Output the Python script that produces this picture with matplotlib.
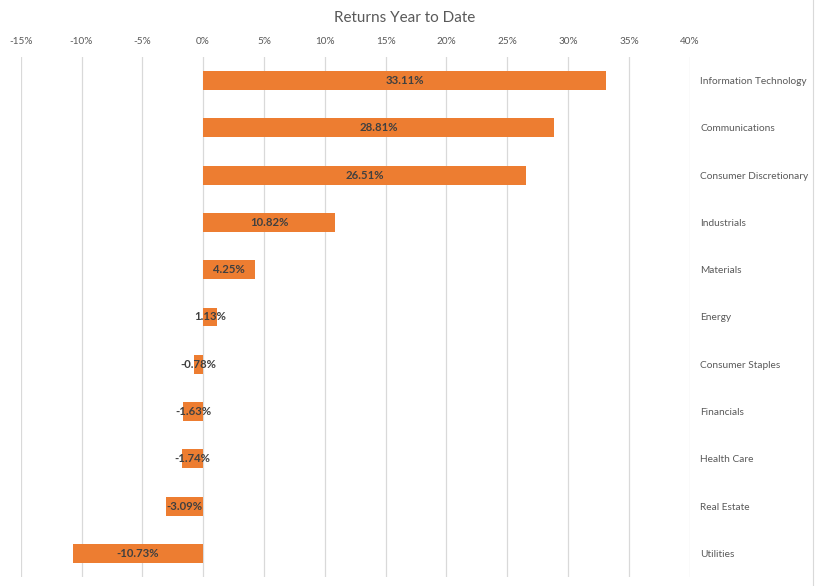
import matplotlib
matplotlib.use("Agg")
import matplotlib.pyplot as plt
from matplotlib.lines import Line2D

# sector returns year to date (%)
sectors = ["Information Technology", "Communications", "Consumer Discretionary",
           "Industrials", "Materials", "Energy", "Consumer Staples", "Financials",
           "Health Care", "Real Estate", "Utilities"]
returns = [33.11, 28.81, 26.51, 10.82, 4.25, 1.13, -0.78, -1.63, -1.74, -3.09, -10.73]
x_ticks = [-15, -10, -5, 0, 5, 10, 15, 20, 25, 30, 35, 40]

plt.rcParams['font.family'] = ['Lato', 'DejaVu Sans']

fig = plt.figure(figsize=(8.15, 5.86), dpi=100)
ax = fig.add_axes([0.0254, 0.0154, 0.8209, 0.8873])

pos = list(range(len(sectors)))
ax.barh(pos, returns, height=0.4, color="#ED7D31", zorder=3)

for p, r in zip(pos, returns):
    ax.text(r / 2, p, f"{r:.2f}%", ha="center", va="center",
            fontsize=8.2, fontweight="bold", color="#404040", zorder=4)

ax.set_xlim(-15, 40)
ax.set_ylim(-0.5, len(sectors) - 0.5)
ax.invert_yaxis()

ax.set_xticks(x_ticks)
ax.set_xticklabels([f"{t}%" for t in x_ticks])
ax.xaxis.tick_top()
ax.tick_params(axis="x", length=0, pad=8, labelsize=7.2, labelcolor="#595959")

ax.set_yticks(pos)
ax.set_yticklabels(sectors)
ax.yaxis.tick_right()
ax.tick_params(axis="y", length=0, pad=7.5, labelsize=7.3, labelcolor="#595959")

ax.grid(axis="x", color="#D9D9D9", linewidth=0.9, zorder=0)
ax.grid(axis="y", visible=False)
for s in ax.spines.values():
    s.set_visible(False)

fig.text(0.497, 0.969, "Returns Year to Date", ha="center", va="center",
         fontsize=11, color="#595959")

# faint chart border on the right edge
fig.add_artist(Line2D([0.9975, 0.9975], [0, 1], transform=fig.transFigure,
                      color="#D9D9D9", linewidth=0.8))

fig.savefig("out.png", dpi=100)
